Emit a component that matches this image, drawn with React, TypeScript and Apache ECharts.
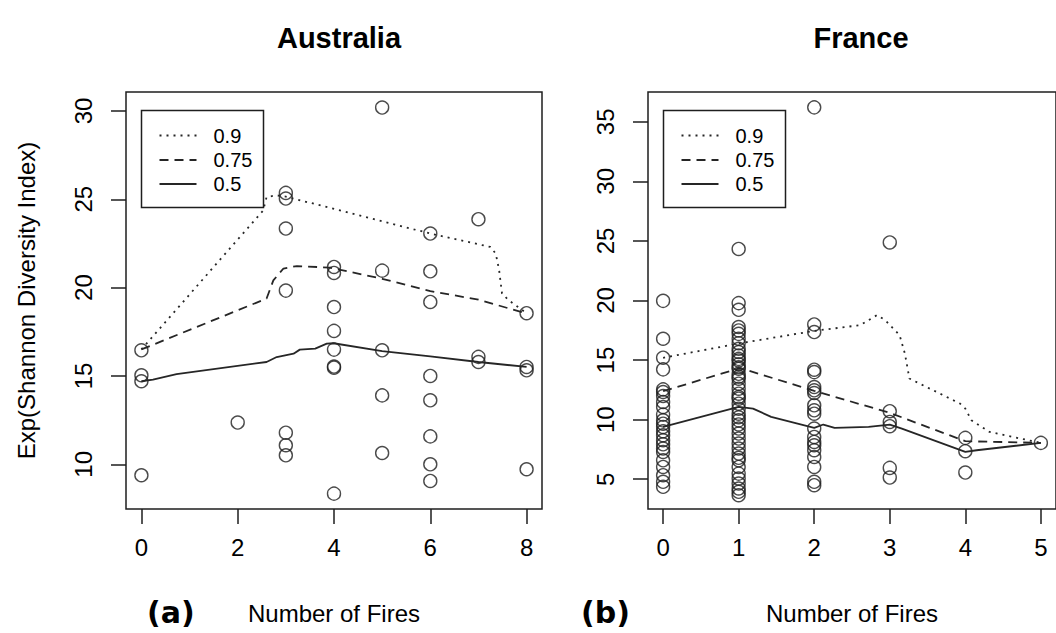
import React, { useEffect, useRef } from "react";
import * as echarts from "echarts";

// ---------- Data ----------
// Australia: number of fires vs Exp(Shannon Diversity Index)
const ausFires = [
  0, 0, 0, 0,
  2,
  3, 3, 3, 3, 3, 3, 3,
  4, 4, 4, 4, 4, 4, 4, 4,
  5, 5, 5, 5, 5,
  6, 6, 6, 6, 6, 6, 6, 6,
  7, 7, 7,
  8, 8, 8, 8,
];
const ausDiversity = [
  16.45, 15.04, 14.7, 9.38,
  12.36,
  25.36, 25.04, 23.34, 19.83, 11.79, 11.08, 10.51,
  21.17, 20.83, 18.9, 17.55, 16.49, 15.53, 15.47, 8.34,
  30.19, 20.96, 16.45, 13.9, 10.64,
  23.06, 20.92, 19.19, 15.0, 13.62, 11.58, 10.0, 9.06,
  23.87, 16.08, 15.79,
  18.55, 15.51, 15.32, 9.72,
];

// Australia quantile curves
const ausQ90X = [0, 2.53, 2.6, 2.81, 3, 6, 7.25, 7.36, 7.43, 7.49, 7.63, 8];
const ausQ90Y = [16.5, 24.37, 25.13, 25.22, 25.15, 23.06, 22.3, 21.92, 20.98, 19.66, 19.28, 18.55];
const ausQ75X = [0, 2.6, 2.74, 2.95, 3.23, 3.92, 4, 5, 6, 7, 8];
const ausQ75Y = [16.5, 19.38, 20.41, 21.08, 21.22, 21.13, 21.08, 20.5, 19.8, 19.32, 18.53];
const ausQ50X = [0, 0.24, 0.73, 2.6, 2.81, 3.16, 3.29, 3.61, 3.85, 3.99, 5, 6, 7, 8];
const ausQ50Y = [14.7, 14.79, 15.1, 15.79, 16.07, 16.26, 16.49, 16.55, 16.83, 16.85, 16.41, 16.11, 15.79, 15.51];

// France
const fraF0 = [19.97, 16.79, 15.2, 14.22, 12.54, 12.32, 11.98, 11.48, 11.06, 10.42, 9.94, 9.66, 9.39, 9.02, 8.69, 8.27, 7.93, 7.57, 7.29, 6.59, 6.03, 5.34, 4.78, 4.36];
const fraF1 = [24.33, 19.78, 19.22, 17.77, 17.49, 17.2, 16.79, 16.42, 15.95, 15.67, 15.39, 15.1, 14.97, 14.64, 14.4, 14.27, 13.85, 13.6, 13.44, 13.02, 12.6, 12.18, 11.9, 11.76, 11.34, 10.92, 10.5, 10.2, 9.94, 9.6, 9.25, 8.83, 8.41, 7.99, 7.57, 7.15, 6.8, 6.59, 6.03, 5.47, 5.06, 4.64, 4.22, 3.94, 3.66];
const fraF2 = [36.21, 17.99, 17.35, 14.19, 13.99, 12.74, 12.46, 12.23, 11.2, 10.78, 10.5, 9.25, 8.55, 8.13, 7.85, 7.43, 6.87, 6.03, 4.78, 4.5];
const fraF3 = [24.87, 10.71, 9.81, 9.45, 5.95, 5.14];
const fraF4 = [8.47, 7.35, 5.56];
const fraF5 = [8.05];
const fraGroups = [fraF0, fraF1, fraF2, fraF3, fraF4, fraF5];

const fraQ90X = [0, 1, 2, 2.61, 2.83, 2.94, 3.13, 3.2, 3.26, 3.93, 4, 4.08, 4.32, 5];
const fraQ90Y = [15.19, 16.39, 17.45, 17.93, 18.77, 18.35, 17.09, 15.55, 13.45, 11.35, 10.93, 9.95, 8.97, 8.05];
const fraQ75X = [0, 1, 1.08, 2, 3, 4, 5];
const fraQ75Y = [12.39, 14.29, 14.21, 12.42, 10.57, 8.19, 8.05];
const fraQ50X = [0, 1, 1.19, 1.43, 2, 2.12, 2.27, 2.72, 3, 3.16, 4, 4.15, 5];
const fraQ50Y = [9.39, 11.07, 10.93, 10.23, 9.31, 9.59, 9.31, 9.39, 9.59, 9.25, 7.29, 7.43, 8.05];

const ausXTicks = [0, 2, 4, 6, 8];
const ausYTicks = [10, 15, 20, 25, 30];
const fraXTicks = [0, 1, 2, 3, 4, 5];
const fraYTicks = [5, 10, 15, 20, 25, 30, 35];

const legendLabels = ["0.9", "0.75", "0.5"];
const panelTitles = ["Australia", "France"];
const panelTags = ["(a)", "(b)"];
const xAxisTitle = "Number of Fires";
const yAxisTitle = "Exp(Shannon Diversity Index)";

// ---------- Styles ----------
const FONT = "'Liberation Sans', Arial, Helvetica, sans-serif";
const INK = "#1e1e1e";
const LINE_INK = "#262626";
const DOT = [2, 5];
const DASH = [9, 6];
const lineTypes: any[] = [DOT, DASH, "solid"];

const zip = (xs: number[], ys: number[]) => xs.map((x, i) => [x, ys[i]]);

function xAxisDef(gi: number, min: number, max: number, ticks: number[]) {
  return {
    type: "value",
    gridIndex: gi,
    position: "bottom",
    min,
    max,
    name: xAxisTitle,
    nameLocation: "middle",
    nameGap: 92,
    nameTextStyle: { fontSize: 24, color: "#000", fontFamily: FONT },
    axisLine: { show: false, onZero: false },
    axisTick: { show: true, inside: false, length: 15, lineStyle: { color: INK, width: 1.5 }, customValues: ticks },
    axisLabel: { show: true, customValues: ticks, fontSize: 24, color: "#000", fontFamily: FONT, margin: 26 },
    splitLine: { show: false },
  };
}

function yAxisDef(gi: number, min: number, max: number, ticks: number[], withName: boolean) {
  return {
    type: "value",
    gridIndex: gi,
    position: "left",
    min,
    max,
    name: withName ? yAxisTitle : "",
    nameLocation: "middle",
    nameRotate: 90,
    nameGap: 88,
    nameTextStyle: { fontSize: 24, color: "#000", fontFamily: FONT },
    axisLine: { show: false, onZero: false },
    axisTick: { show: true, inside: false, length: 15, lineStyle: { color: INK, width: 1.5 }, customValues: ticks },
    axisLabel: { show: true, customValues: ticks, rotate: 90, fontSize: 24, color: "#000", fontFamily: FONT, margin: 31 },
    splitLine: { show: false },
  };
}

function scatterSeries(gi: number, data: number[][]) {
  return {
    type: "scatter",
    xAxisIndex: gi,
    yAxisIndex: gi,
    data,
    symbol: "circle",
    symbolSize: 13,
    itemStyle: { color: "rgba(0,0,0,0)", borderColor: INK, borderWidth: 1.4 },
    z: 2,
  };
}

function lineSeries(gi: number, xs: number[], ys: number[], type: any) {
  return {
    type: "line",
    xAxisIndex: gi,
    yAxisIndex: gi,
    data: zip(xs, ys),
    showSymbol: false,
    symbol: "none",
    lineStyle: { color: LINE_INK, width: 1.8, type },
    z: 3,
  };
}

function legendGraphic(x0: number) {
  const rows = [135.5, 160, 184];
  const els: any[] = [
    {
      type: "rect",
      shape: { x: x0, y: 110.5, width: 122, height: 97 },
      style: { fill: "none", stroke: INK, lineWidth: 1.5 },
    },
  ];
  rows.forEach((y, i) => {
    els.push({
      type: "line",
      shape: { x1: x0 + 18, y1: y, x2: x0 + 55, y2: y },
      style: { stroke: LINE_INK, lineWidth: 1.8, lineDash: lineTypes[i] === "solid" ? null : lineTypes[i] },
    });
    els.push({
      type: "text",
      x: x0 + 72,
      y,
      style: { text: legendLabels[i], fontSize: 20, fontFamily: FONT, fill: "#000", verticalAlign: "middle", align: "left" },
    });
  });
  return els;
}

export default function App() {
  const ref = useRef<HTMLDivElement>(null);

  useEffect(() => {
    document.body.style.margin = "0";
    if (!ref.current) return;
    const chart = echarts.init(ref.current, null, { renderer: "svg" });

    const ausPts = ausFires.map((f, i) => [f, ausDiversity[i]]);
    const fraPts: number[][] = [];
    fraGroups.forEach((g, f) => g.forEach((v) => fraPts.push([f, v])));

    const titleStyle = { fontSize: 29, fontWeight: "bold", color: "#000", fontFamily: FONT };
    const tagStyle = { fontSize: 30, fontWeight: "bold", fontFamily: "'DejaVu Sans', sans-serif", fill: "#000", verticalAlign: "middle", align: "left" };

    const option: any = {
      animation: false,
      backgroundColor: "#fff",
      textStyle: { fontFamily: FONT },
      title: [
        { text: panelTitles[0], left: 334, top: 18, textAlign: "center", textStyle: titleStyle },
        { text: panelTitles[1], left: 856, top: 18, textAlign: "center", textStyle: titleStyle },
      ],
      grid: [
        { left: 126, top: 92, width: 416, height: 417, show: true, borderColor: INK, borderWidth: 1.5, backgroundColor: "transparent" },
        { left: 648, top: 92, width: 416, height: 417, show: true, borderColor: INK, borderWidth: 1.5, backgroundColor: "transparent" },
      ],
      xAxis: [xAxisDef(0, -0.32, 8.32, ausXTicks), xAxisDef(1, -0.2, 5.2, fraXTicks)],
      yAxis: [yAxisDef(0, 7.47, 31.07, ausYTicks, true), yAxisDef(1, 2.5, 37.5, fraYTicks, false)],
      series: [
        scatterSeries(0, ausPts),
        lineSeries(0, ausQ90X, ausQ90Y, DOT),
        lineSeries(0, ausQ75X, ausQ75Y, DASH),
        lineSeries(0, ausQ50X, ausQ50Y, "solid"),
        scatterSeries(1, fraPts),
        lineSeries(1, fraQ90X, fraQ90Y, DOT),
        lineSeries(1, fraQ75X, fraQ75Y, DASH),
        lineSeries(1, fraQ50X, fraQ50Y, "solid"),
      ],
      graphic: [
        ...legendGraphic(141.5),
        ...legendGraphic(663.5),
        { type: "text", x: 147, y: 612, style: { text: panelTags[0], ...tagStyle } },
        { type: "text", x: 581, y: 612, style: { text: panelTags[1], ...tagStyle } },
      ],
    };
    chart.setOption(option);
    return () => chart.dispose();
  }, []);

  return (
    <div
      ref={ref}
      style={{ position: "absolute", left: 0, top: 0, width: 1056, height: 633, background: "#fff" }}
    />
  );
}
